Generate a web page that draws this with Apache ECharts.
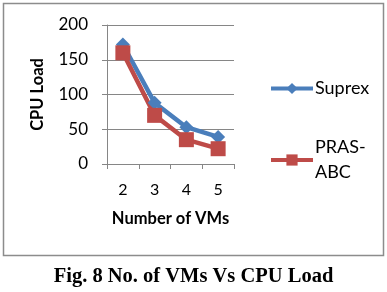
<!DOCTYPE html>
<html>
<head>
<meta charset="utf-8">
<script src="https://cdn.jsdelivr.net/npm/echarts@6/dist/echarts.min.js"></script>
<style>
  html, body { margin: 0; padding: 0; background: #fff; }
  #chart { width: 387px; height: 292px; }
</style>
</head>
<body>
<div id="chart"></div>
<script>
// values
const vmCounts = ['2', '3', '4', '5'];
const suprexLoad = [172, 88, 53, 39];
const prasLoad = [160, 70, 35, 22];

const chart = echarts.init(document.getElementById('chart'));

chart.setOption({
  animation: false,
  textStyle: { fontFamily: 'Lato' },
  grid: { left: 107, top: 25, width: 127, height: 139 },
  graphic: [
    {
      type: 'rect',
      shape: { x: 3.5, y: 3.5, width: 380, height: 252 },
      style: { fill: 'none', stroke: '#8c8c8c', lineWidth: 1.5 }
    },
    {
      type: 'text',
      left: 'center',
      top: 266,
      style: {
        text: 'Fig. 8 No. of VMs Vs CPU Load',
        font: 'bold 20.5px "Liberation Serif"',
        fill: '#000'
      }
    }
  ],
  legend: {
    orient: 'vertical',
    left: 264,
    top: 71,
    itemWidth: 42,
    itemHeight: 14,
    itemGap: 34,
    lineStyle: { width: 4 },
    textStyle: { fontSize: 18, color: '#000', fontFamily: 'Lato', lineHeight: 25, padding: [0, 0, 0, -3] },
    formatter: function (name) { return name === 'PRAS-ABC' ? 'PRAS-\nABC' : name; },
    data: ['Suprex', 'PRAS-ABC']
  },
  xAxis: {
    type: 'category',
    data: vmCounts,
    name: 'Number of VMs',
    nameLocation: 'middle',
    nameGap: 46,
    nameTextStyle: { fontSize: 16.5, fontWeight: 'bold', color: '#000' },
    axisLine: { lineStyle: { color: '#868686' } },
    axisTick: { show: true, length: 5, lineStyle: { color: '#868686' } },
    axisLabel: { fontSize: 16, color: '#000', margin: 18 },
    splitLine: { show: false }
  },
  yAxis: {
    type: 'value',
    min: 0,
    max: 200,
    interval: 50,
    name: 'CPU Load',
    nameLocation: 'middle',
    nameGap: 61,
    nameTextStyle: { fontSize: 16.5, fontWeight: 'bold', color: '#000' },
    axisLine: { show: true, lineStyle: { color: '#868686' } },
    axisTick: { show: true, length: 5, lineStyle: { color: '#868686' } },
    axisLabel: { fontSize: 17, color: '#000', margin: 19 },
    splitLine: { lineStyle: { color: '#868686' } }
  },
  series: [
    {
      name: 'Suprex',
      type: 'line',
      data: suprexLoad,
      symbol: 'diamond',
      symbolSize: 14,
      lineStyle: { color: '#4a7ebb', width: 4.5 },
      itemStyle: { color: '#4a7ebb' }
    },
    {
      name: 'PRAS-ABC',
      type: 'line',
      data: prasLoad,
      symbol: 'rect',
      symbolSize: 15,
      lineStyle: { color: '#be4b48', width: 4.5 },
      itemStyle: { color: '#be4b48' }
    }
  ]
});
</script>
</body>
</html>
